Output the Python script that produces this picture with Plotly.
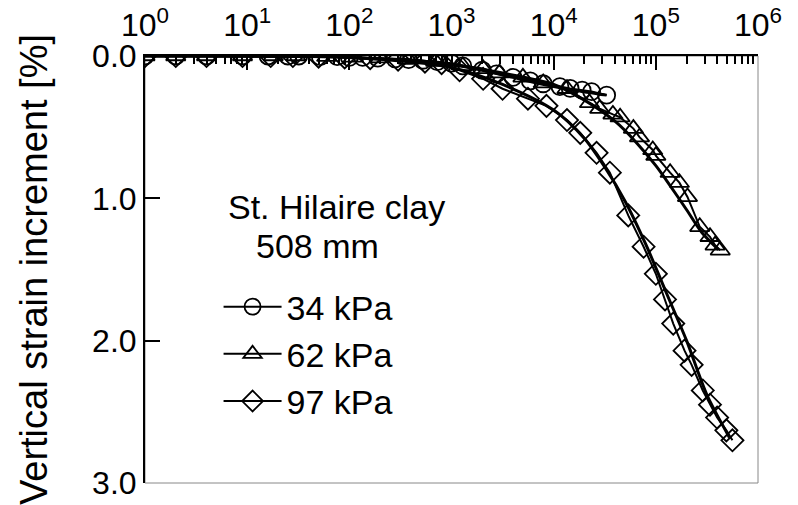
import plotly.graph_objects as go

# ---- data (time in log scale, vertical strain increment in %) ----
t34 = [1, 2, 4, 9, 16, 25, 32, 52, 76, 100, 135, 190, 280, 380, 525, 725,
       1000, 1290, 2000, 2750, 4000, 5900, 7900, 11500, 14500, 19000, 23500, 33000]
s34 = [0, 0, 0, 0, 0, 0, 0, 0.005, 0.005, 0.01, 0.01, 0.015, 0.02, 0.025, 0.03, 0.04,
       0.05, 0.07, 0.10, 0.125, 0.15, 0.175, 0.195, 0.215, 0.228, 0.24, 0.25, 0.275]

t62 = [1, 2, 4, 9, 18, 30, 60, 110, 200, 380, 700, 1290, 2040, 2950, 5000, 7900,
       13500, 22400, 28200, 38000, 44700, 60300, 69200, 93300, 100000, 138000,
       170000, 204000, 269000, 339000, 380000, 427000]
s62 = [0, 0, 0, 0, 0, 0, 0.005, 0.01, 0.015, 0.025, 0.04, 0.07, 0.09, 0.12, 0.15,
       0.19, 0.23, 0.33, 0.37, 0.41, 0.43, 0.51, 0.57, 0.66, 0.70, 0.82, 0.89, 0.99,
       1.20, 1.27, 1.33, 1.365]

t97 = [1, 2, 4, 9, 17, 28, 50, 90, 160, 300, 550, 800, 1200, 2040, 3160, 5600,
       8500, 13500, 18200, 26300, 35500, 53700, 75900, 100000, 123000, 148000,
       191000, 224000, 288000, 339000, 398000, 490000, 562000]
s97 = [0, 0, 0, 0, 0, 0, 0.005, 0.01, 0.015, 0.025, 0.04, 0.05, 0.10, 0.16, 0.23,
       0.30, 0.35, 0.45, 0.54, 0.68, 0.82, 1.12, 1.34, 1.53, 1.71, 1.88, 2.07, 2.17,
       2.35, 2.45, 2.54, 2.63, 2.70]

# fitted curves
tf34 = [300, 1000, 2000, 4000, 8000, 16000, 33000]
sf34 = [0.02, 0.06, 0.10, 0.15, 0.20, 0.24, 0.275]

tf62 = [1, 100, 1000, 3160, 10000, 20000, 40000, 63000, 100000, 126000, 200000, 282000, 410000]
sf62 = [0, 0.01, 0.06, 0.12, 0.20, 0.31, 0.46, 0.60, 0.77, 0.87, 1.08, 1.24, 1.36]

tf97 = [1, 100, 1000, 3160, 10000, 20000, 31600, 50000, 79400, 126000, 200000, 316000, 525000]
sf97 = [0, 0.01, 0.08, 0.20, 0.38, 0.58, 0.78, 1.02, 1.32, 1.66, 2.00, 2.38, 2.68]

labels = ["34 kPa", "62 kPa", "97 kPa"]
symbols = ["circle-open", "triangle-up-open", "diamond-open"]

xtickvals = [1, 10, 100, 1000, 10000, 100000, 1000000]
xticktext = ["10<sup>%d</sup>" % i for i in range(7)]
ytickvals = [0, 1, 2, 3]
yticktext = ["0.0", "1.0", "2.0", "3.0"]

FONT = "Liberation Sans, Arial, sans-serif"

fig = go.Figure()
for tf, sf in [(tf34, sf34), (tf62, sf62), (tf97, sf97)]:
    fig.add_trace(go.Scatter(x=tf, y=sf, mode="lines", line=dict(color="black", width=3, shape="spline", smoothing=0.8),
                             showlegend=False, hoverinfo="skip"))
for i, (t, s) in enumerate([(t34, s34), (t62, s62), (t97, s97)]):
    fig.add_trace(go.Scatter(x=t, y=s, mode="lines+markers", name=labels[i], legendgroup=labels[i],
                             line=dict(color="black", width=2),
                             marker=dict(symbol=symbols[i], size=17, color="black",
                                         line=dict(color="black", width=1.8))))

fig.update_layout(
    width=798, height=505,
    margin=dict(l=145, r=40, t=56, b=22, autoexpand=False),
    paper_bgcolor="white", plot_bgcolor="white",
    font=dict(family=FONT, color="black", size=32),
    showlegend=True,
    legend=dict(x=0.12, y=0.48, xanchor="left", yanchor="top",
                font=dict(size=34, family=FONT), bgcolor="rgba(0,0,0,0)",
                tracegroupgap=0, itemwidth=58),
    xaxis=dict(type="log", range=[0, 6], side="top", showgrid=False, zeroline=False,
               automargin=False,
               showline=True, linecolor="black", linewidth=2,
               ticks="inside", ticklen=14, tickwidth=1.5, tickcolor="black",
               tickvals=xtickvals, ticktext=xticktext, tickfont=dict(size=32),
               ticklabelstandoff=5,
               minor=dict(ticks="inside", ticklen=8, tickwidth=1.5, tickcolor="black", dtick="D1")),
    yaxis=dict(range=[3, 0], showgrid=False, zeroline=False,
               automargin=False,
               showline=True, linecolor="black", linewidth=2,
               ticks="inside", ticklen=15, tickwidth=1.5, tickcolor="black",
               tickvals=ytickvals, ticktext=yticktext, tickfont=dict(size=32),
               title=dict(text="Vertical strain increment [%]", font=dict(size=38), standoff=33)),
    shapes=[dict(type="rect", xref="paper", yref="paper", x0=0, x1=1, y0=0, y1=1,
                 line=dict(color="#888888", width=1), layer="below")],
    annotations=[
        dict(text="St. Hilaire clay", xref="paper", yref="paper", x=0.132, y=0.646,
             xanchor="left", yanchor="middle", showarrow=False, font=dict(size=34)),
        dict(text="508 mm", xref="paper", yref="paper", x=0.178, y=0.554,
             xanchor="left", yanchor="middle", showarrow=False, font=dict(size=34)),
    ],
)

fig.write_html("out.html")
